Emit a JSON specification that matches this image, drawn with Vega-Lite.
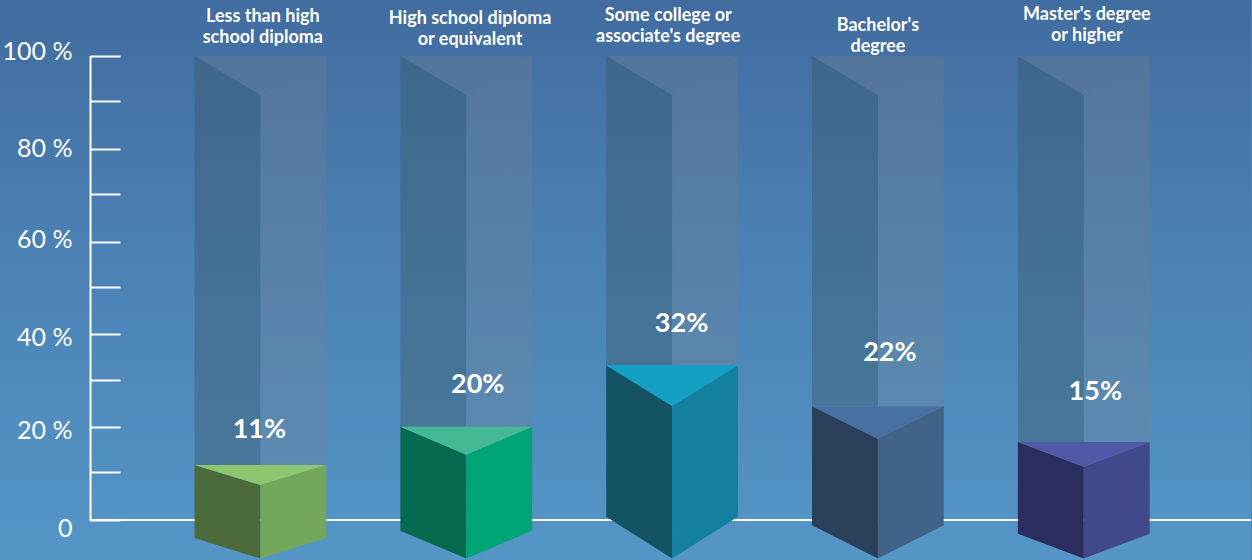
{"$schema":"https://vega.github.io/schema/vega-lite/v6.json","width":1252,"height":560,"padding":0,"autosize":{"type":"fit","contains":"padding"},"background":"#4c83b7","config":{"view":{"stroke":null}},
"datasets":{
"bg":[{"pos":-0.265,"pos2":5.8125,"top":112.07,"bottom":-8.62}],
"base":[{"pos":0.17,"pos2":5.8125,"top":0}],
"spine":[{"pos":0.1748,"top":100,"bottom":0}],
"faces":[
{"id":"g1l","face":"ghost left","pos":0.68,"top":100,"bottom":11.85},{"id":"g1l","face":"ghost left","pos":1,"top":91.6,"bottom":11.85},
{"id":"g1r","face":"ghost right","pos":1,"top":91.6,"bottom":11.85},{"id":"g1r","face":"ghost right","pos":1.32,"top":100,"bottom":11.85},
{"id":"g1t","face":"ghost top","pos":0.68,"top":100,"bottom":100},{"id":"g1t","face":"ghost top","pos":1,"top":100,"bottom":91.6},{"id":"g1t","face":"ghost top","pos":1.32,"top":100,"bottom":100},
{"id":"g2l","face":"ghost left","pos":1.68,"top":100,"bottom":20.1},{"id":"g2l","face":"ghost left","pos":2,"top":91.6,"bottom":20.1},
{"id":"g2r","face":"ghost right","pos":2,"top":91.6,"bottom":20.1},{"id":"g2r","face":"ghost right","pos":2.32,"top":100,"bottom":20.1},
{"id":"g2t","face":"ghost top","pos":1.68,"top":100,"bottom":100},{"id":"g2t","face":"ghost top","pos":2,"top":100,"bottom":91.6},{"id":"g2t","face":"ghost top","pos":2.32,"top":100,"bottom":100},
{"id":"g3l","face":"ghost left","pos":2.68,"top":100,"bottom":33.34},{"id":"g3l","face":"ghost left","pos":3,"top":91.6,"bottom":33.34},
{"id":"g3r","face":"ghost right","pos":3,"top":91.6,"bottom":33.34},{"id":"g3r","face":"ghost right","pos":3.32,"top":100,"bottom":33.34},
{"id":"g3t","face":"ghost top","pos":2.68,"top":100,"bottom":100},{"id":"g3t","face":"ghost top","pos":3,"top":100,"bottom":91.6},{"id":"g3t","face":"ghost top","pos":3.32,"top":100,"bottom":100},
{"id":"g4l","face":"ghost left","pos":3.68,"top":100,"bottom":24.5},{"id":"g4l","face":"ghost left","pos":4,"top":91.6,"bottom":24.5},
{"id":"g4r","face":"ghost right","pos":4,"top":91.6,"bottom":24.5},{"id":"g4r","face":"ghost right","pos":4.32,"top":100,"bottom":24.5},
{"id":"g4t","face":"ghost top","pos":3.68,"top":100,"bottom":100},{"id":"g4t","face":"ghost top","pos":4,"top":100,"bottom":91.6},{"id":"g4t","face":"ghost top","pos":4.32,"top":100,"bottom":100},
{"id":"g5l","face":"ghost left","pos":4.68,"top":100,"bottom":16.81},{"id":"g5l","face":"ghost left","pos":5,"top":91.6,"bottom":16.81},
{"id":"g5r","face":"ghost right","pos":5,"top":91.6,"bottom":16.81},{"id":"g5r","face":"ghost right","pos":5.32,"top":100,"bottom":16.81},
{"id":"g5t","face":"ghost top","pos":4.68,"top":100,"bottom":100},{"id":"g5t","face":"ghost top","pos":5,"top":100,"bottom":91.6},{"id":"g5t","face":"ghost top","pos":5.32,"top":100,"bottom":100},
{"id":"b1l","face":"b1 left","pos":0.68,"top":11.85,"bottom":-3.88},{"id":"b1l","face":"b1 left","pos":1,"top":7.54,"bottom":-8.3},
{"id":"b1r","face":"b1 right","pos":1,"top":7.54,"bottom":-8.3},{"id":"b1r","face":"b1 right","pos":1.32,"top":11.85,"bottom":-3.88},
{"id":"b1t","face":"b1 top","pos":0.68,"top":11.85,"bottom":11.85},{"id":"b1t","face":"b1 top","pos":1,"top":11.85,"bottom":7.54},{"id":"b1t","face":"b1 top","pos":1.32,"top":11.85,"bottom":11.85},
{"id":"b2l","face":"b2 left","pos":1.68,"top":20.1,"bottom":-2.31},{"id":"b2l","face":"b2 left","pos":2,"top":14.07,"bottom":-8.3},
{"id":"b2r","face":"b2 right","pos":2,"top":14.07,"bottom":-8.3},{"id":"b2r","face":"b2 right","pos":2.32,"top":20.1,"bottom":-2.31},
{"id":"b2t","face":"b2 top","pos":1.68,"top":20.1,"bottom":20.1},{"id":"b2t","face":"b2 top","pos":2,"top":20.1,"bottom":14.07},{"id":"b2t","face":"b2 top","pos":2.32,"top":20.1,"bottom":20.1},
{"id":"b3l","face":"b3 left","pos":2.68,"top":33.34,"bottom":0.71},{"id":"b3l","face":"b3 left","pos":3,"top":24.57,"bottom":-8.3},
{"id":"b3r","face":"b3 right","pos":3,"top":24.57,"bottom":-8.3},{"id":"b3r","face":"b3 right","pos":3.32,"top":33.34,"bottom":0.71},
{"id":"b3t","face":"b3 top","pos":2.68,"top":33.34,"bottom":33.34},{"id":"b3t","face":"b3 top","pos":3,"top":33.34,"bottom":24.57},{"id":"b3t","face":"b3 top","pos":3.32,"top":33.34,"bottom":33.34},
{"id":"b4l","face":"b4 left","pos":3.68,"top":24.5,"bottom":-1.14},{"id":"b4l","face":"b4 left","pos":4,"top":17.52,"bottom":-8.3},
{"id":"b4r","face":"b4 right","pos":4,"top":17.52,"bottom":-8.3},{"id":"b4r","face":"b4 right","pos":4.32,"top":24.5,"bottom":-1.14},
{"id":"b4t","face":"b4 top","pos":3.68,"top":24.5,"bottom":24.5},{"id":"b4t","face":"b4 top","pos":4,"top":24.5,"bottom":17.52},{"id":"b4t","face":"b4 top","pos":4.32,"top":24.5,"bottom":24.5},
{"id":"b5l","face":"b5 left","pos":4.68,"top":16.81,"bottom":-2.95},{"id":"b5l","face":"b5 left","pos":5,"top":11.49,"bottom":-8.3},
{"id":"b5r","face":"b5 right","pos":5,"top":11.49,"bottom":-8.3},{"id":"b5r","face":"b5 right","pos":5.32,"top":16.81,"bottom":-2.95},
{"id":"b5t","face":"b5 top","pos":4.68,"top":16.81,"bottom":16.81},{"id":"b5t","face":"b5 top","pos":5,"top":16.81,"bottom":11.49},{"id":"b5t","face":"b5 top","pos":5.32,"top":16.81,"bottom":16.81}
],
"titles":[
{"label":"Less than high\nschool diploma","pos":1.012,"top":108.43},
{"label":"High school diploma\nor equivalent","pos":2.019,"top":107.93},
{"label":"Some college or\nassociate's degree","pos":2.981,"top":108.63},
{"label":"Bachelor's\ndegree","pos":4,"top":106.43},
{"label":"Master's degree\nor higher","pos":5.015,"top":108.83}
],
"values":[
{"label":"11%","pos":0.995,"top":19.3},
{"label":"20%","pos":2.056,"top":29.1},
{"label":"32%","pos":3.046,"top":42.3},
{"label":"22%","pos":4.058,"top":36},
{"label":"15%","pos":5.056,"top":27.6}
]},
"encoding":{
"x":{"field":"pos","type":"quantitative","axis":null,"scale":{"domain":[-0.265,5.8125],"nice":false,"zero":false}},
"y":{"field":"top","type":"quantitative","stack":null,"scale":{"domain":[-8.62,112.07],"nice":false,"zero":false},
"axis":{"title":null,"offset":-90,"zindex":1,"values":[0,10.3,20,30.2,40,50.2,60,70.3,80,90.4,100],"labelExpr":"datum.value == 0 ? '0' : (datum.value % 20 == 0 ? datum.value + ' %' : '')","domain":false,"tickColor":"#ffffff","tickWidth":2,"tickSize":-30,"labelColor":"#ffffff","labelFont":"Lato","labelFontSize":25,"labelPadding":48,"labelOverlap":false,"labelFlush":false,"grid":false,
"labelOffset":{"condition":[{"test":"datum.value == 100","value":-5},{"test":"datum.value == 80","value":0},{"test":"datum.value == 60","value":-2},{"test":"datum.value == 40","value":3},{"test":"datum.value == 20","value":3},{"test":"datum.value == 0","value":8}],"value":0}}}
},
"layer":[
{"data":{"name":"bg"},"mark":{"type":"rect","fill":{"gradient":"linear","x1":0,"y1":0,"x2":0,"y2":1,"stops":[{"offset":0,"color":"#416c9f"},{"offset":0.5,"color":"#4c83b7"},{"offset":1,"color":"#5596c7"}]}},"encoding":{"x2":{"field":"pos2"},"y2":{"field":"bottom"}}},
{"data":{"name":"base"},"mark":{"type":"rule","color":"#ffffff","strokeWidth":2},"encoding":{"x2":{"field":"pos2"}}},
{"data":{"name":"spine"},"mark":{"type":"rule","color":"#ffffff","strokeWidth":2},"encoding":{"y2":{"field":"bottom"}}},
{"data":{"name":"faces"},"mark":{"type":"area","orient":"vertical"},"encoding":{"y2":{"field":"bottom"},"detail":{"field":"id"},
"color":{"field":"face","type":"nominal","legend":null,"sort":null,"scale":{"domain":["ghost left","ghost right","ghost top","b1 left","b1 right","b1 top","b2 left","b2 right","b2 top","b3 left","b3 right","b3 top","b4 left","b4 right","b4 top","b5 left","b5 right","b5 top"],"range":["rgba(60,90,110,0.45)","rgba(120,130,140,0.3)","rgba(120,125,130,0.3)","#4b6b3b","#72a75c","#8ec66f","#076a4f","#00a577","#45b996","#135364","#14809f","#12a0c5","#2b3f59","#416388","#4870a3","#2a2d5d","#41488c","#5258a8"]}}}},
{"data":{"name":"titles"},"mark":{"type":"text","font":"Lato","fontWeight":"bold","fontSize":18,"color":"#ffffff","lineHeight":21,"lineBreak":"\n","align":"center","baseline":"middle"},"encoding":{"text":{"field":"label"}}},
{"data":{"name":"values"},"mark":{"type":"text","font":"Lato","fontWeight":"bold","fontSize":27,"color":"#ffffff","align":"center","baseline":"middle"},"encoding":{"text":{"field":"label"}}}
]}
